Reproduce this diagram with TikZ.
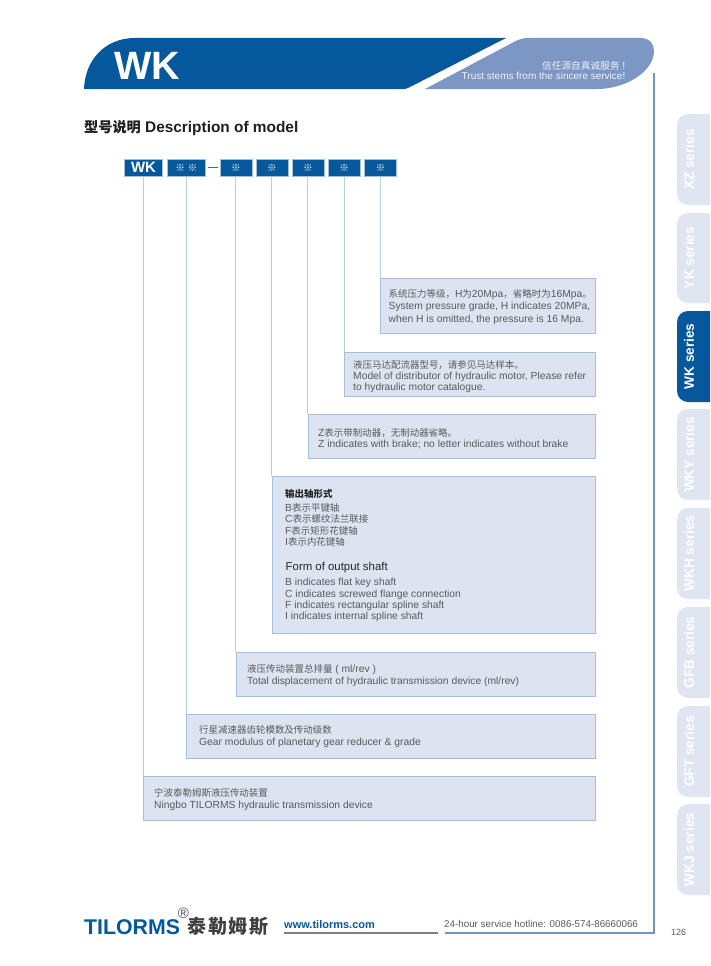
\documentclass[tikz,border=0pt]{standalone}
\usepackage{fontspec}
\setmainfont{Liberation Sans}
\newfontfamily\zhf[Scale=0.92]{Noto Sans CJK SC}
\newcommand{\zh}[1]{{\zhf #1}}
\definecolor{hblue}{HTML}{04589B}
\definecolor{hlight}{HTML}{7C97C3}
\definecolor{panelfill}{HTML}{DCE4F1}
\definecolor{panelline}{HTML}{A3BFDB}
\definecolor{conn}{HTML}{B5CFE1}
\definecolor{frameblue}{HTML}{7493C8}
\definecolor{tabfill}{HTML}{DFE5F1}
\definecolor{txt}{HTML}{5A5A5A}
\tikzset{
  x=1pt,y=-1pt,
  codebox/.style={fill=hblue,draw=panelline,line width=0.5pt,inner sep=0pt,text=white,anchor=north west},
  panel/.style={fill=panelfill,draw=panelline,line width=0.9pt,inner sep=0pt,anchor=north west},
  link/.style={draw=conn,line width=1pt},
  line/.style={anchor=base west,inner sep=0pt,text=txt,font=\fontsize{10.3}{12}\selectfont},
  heading/.style={line,text=black!85,font=\fontsize{11.4}{12}\selectfont},
  tabbox/.style={fill=tabfill,draw=none},
  tablabel/.style={rotate=90,inner sep=0pt,text=white,font=\bfseries\fontsize{13.6}{14}\selectfont},
}
\newcommand{\cbox}[6]{\node[codebox,minimum width=#4pt-#2pt,minimum height=17pt] (#1) at (#2,#3) {\fontsize{#6}{10}\selectfont #5};}
\newcommand{\pbox}[5]{\node[panel,minimum width=#4pt-#2pt,minimum height=#5pt-#3pt] (#1) at (#2,#3) {};}
\newcommand{\lnk}[2]{\draw[link] (#1.south) -- (#1.south |- #2.north west);}
\newcommand{\tl}[4]{\node[line] (#1) at (#2,#3+3.7) {#4};}
\newcommand{\hl}[4]{\node[heading] (#1) at (#2,#3+3.7) {#4};}
\newcommand{\tabb}[5][tablabel]{\fill[tabbox,rounded corners=11pt] (677,#3) -- (677,#4) -- (730,#4) -- (730,#3) -- cycle;
  \node[#1] (#2) at (689,{(#3+#4)/2}) {#5};}
\begin{document}
\begin{tikzpicture}
\useasboundingbox (0,0) rectangle (710,966);
\fill[white] (0,0) rectangle (710,966);
% header
\fill[hblue] (84,89) .. controls (85,60) and (105,38) .. (135,38) -- (506,38) -- (409,87.5) .. controls (407,88.7) and (405,89) .. (403,89) -- cycle;
\fill[hlight] (425,89) -- (512,43) .. controls (517,40) and (522,38) .. (528,38) -- (640,38) .. controls (650,38) and (654,44) .. (654,51) .. controls (654,72) and (625,89) .. (597,89) -- cycle;
\node[inner sep=0pt,text=white,anchor=base west,font=\bfseries\fontsize{39.5}{40}\selectfont] (wk) at (114,80) {WK};
\node[inner sep=0pt,anchor=base east,text=white!88!hlight,font=\fontsize{10.5}{11}\selectfont] (slogan1) at (625.5,70) {\zh{信任源自真诚服务} !};
\node[inner sep=0pt,anchor=base east,text=white!88!hlight,font=\fontsize{10}{12}\selectfont] (slogan2) at (625.5,80) {Trust stems from the sincere service!};
% frame
\draw[frameblue,line width=2pt] (654,73) -- (654,933) -- (445,933);
% title
\node[inner sep=0pt,anchor=base west,text=black!88,font=\bfseries\fontsize{15.4}{15}\selectfont] (title) at (84,132) {\zh{型号说明} Description of model};
% panels
\pbox{p7}{380.3}{278}{595}{333}
\pbox{p6}{344}{352}{595}{396}
\pbox{p5}{307.7}{414}{595}{458}
\pbox{p4}{271.7}{476}{595}{633}
\pbox{p3}{235.7}{652}{595}{696}
\pbox{p2}{185.7}{714}{595}{758}
\pbox{p1}{143.3}{776}{595}{820}
% code boxes
\cbox{c1}{124.3}{159}{162.3}{\bfseries WK}{15}
\cbox{c2}{167}{159}{205}{\zh{※\hspace{2.6pt}※}}{10.5}
\cbox{c3}{219.7}{159}{251.7}{\zh{※}}{10.5}
\cbox{c4}{255.7}{159}{287.7}{\zh{※}}{10.5}
\cbox{c5}{291.7}{159}{323.7}{\zh{※}}{10.5}
\cbox{c6}{328}{159}{360}{\zh{※}}{10.5}
\cbox{c7}{364.3}{159}{396.3}{\zh{※}}{10.5}
\draw[hblue!85!white,line width=1pt,shorten <=2pt,shorten >=2pt] (c2.east |- 0,167.5) -- (c3.west |- 0,167.5);
% connectors
\lnk{c1}{p1}\lnk{c2}{p2}\lnk{c3}{p3}\lnk{c4}{p4}\lnk{c5}{p5}\lnk{c6}{p6}\lnk{c7}{p7}
% panel texts
\tl{a1}{388.5}{293.3}{\zh{系统压力等级，}H\zh{为}20Mpa\zh{，省略时为}16Mpa\zh{。}}
\tl{a2}{388.5}{305.7}{System pressure grade, H indicates 20MPa,}
\tl{a3}{388.5}{318.3}{when H is omitted, the pressure is 16 Mpa.}
\tl{b1}{353}{364.3}{\zh{液压马达配流器型号，请参见马达样本。}}
\tl{b2}{353}{375.3}{Model of distributor of hydraulic motor, Please refer}
\tl{b3}{353}{386.3}{to hydraulic motor catalogue.}
\tl{d1t}{318}{432.3}{Z\zh{表示带制动器，无制动器省略。}}
\tl{d2t}{318}{444}{Z indicates with brake; no letter indicates without brake}
\node[heading,font=\fontsize{10.3}{12}\selectfont] (e0) at (285,497) {\bfseries\zh{输出轴形式}};
\tl{e1}{285}{507.7}{B\zh{表示平键轴}}
\tl{e2}{285}{519}{C\zh{表示螺纹法兰联接}}
\tl{e3}{285}{530.7}{F\zh{表示矩形花键轴}}
\tl{e4}{285}{541.7}{I\zh{表示内花键轴}}
\hl{f0}{285.5}{567}{Form of output shaft}
\tl{f1}{285}{582}{B indicates flat key shaft}
\tl{f2}{285}{593.7}{C indicates screwed flange connection}
\tl{f3}{285}{604.7}{F indicates rectangular spline shaft}
\tl{f4}{285}{616}{I indicates internal spline shaft}
\tl{g1}{247}{668.3}{\zh{液压传动装置总排量} ( ml/rev )}
\tl{g2}{247}{680.5}{Total displacement of hydraulic transmission device (ml/rev)}
\tl{h1}{199}{729.3}{\zh{行星减速器齿轮模数及传动级数}}
\tl{h2}{199}{741.7}{Gear modulus of planetary gear reducer \& grade}
\tl{i1}{154}{792.7}{\zh{宁波泰勒姆斯液压传动装置}}
\tl{i2}{154}{805}{Ningbo TILORMS hydraulic transmission device}
% tabs
\begin{scope}
\clip (670,100) rectangle (710,900);
\tabb{t1}{114}{205}{XZ series}
\tabb{t2}{213}{303}{YK series}
\fill[hblue,rounded corners=11pt] (677,311) -- (677,402) -- (730,402) -- (730,311) -- cycle;
\node[tablabel] (t3) at (689,356.5) {WK series};
\tabb{t4}{409}{500}{WKY series}
\tabb{t5}{508}{599}{WKH series}
\tabb{t6}{607}{698}{GFB series}
\tabb{t7}{706}{797}{GFT series}
\tabb{t8}{804}{895}{WKJ series}
\end{scope}
% footer
\node[inner sep=0pt,anchor=base west,text=hblue,font=\bfseries\fontsize{21.3}{22}\selectfont] (logo) at (84,934) {TILORMS};
\node[inner sep=0pt,text=black!70,font=\fontsize{15}{16}\selectfont] (reg) at (183.5,913) {®};
\node[inner sep=0pt,anchor=base west,text=black!75,font=\bfseries\fontsize{20.6}{20}\selectfont] (logozh) at (187.5,933) {\zh{泰\hspace{1.5pt}勒\hspace{1.5pt}姆\hspace{1.5pt}斯}};
\node[inner sep=0pt,anchor=base west,text=hblue,font=\bfseries\fontsize{11}{12}\selectfont] (web) at (284,928) {www.tilorms.com};
\node[inner sep=0pt,anchor=base west,text=txt,font=\fontsize{9.8}{12}\selectfont] (hot) at (444,927.5) {24-hour service hotline: 0086-574-86660066};
\node[inner sep=0pt,anchor=base west,text=txt,font=\fontsize{9}{12}\selectfont] (pg) at (671,935) {126};
\draw[black!50,line width=2pt] (web.south west |- 0,933) coordinate (g1) -- (438,933) coordinate (g2);
\end{tikzpicture}
\end{document}
